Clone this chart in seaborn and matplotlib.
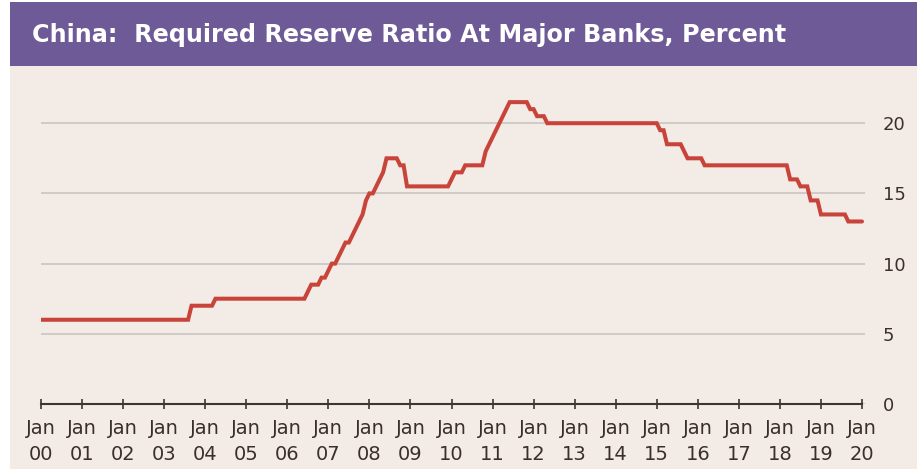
import numpy as np
import pandas as pd
import matplotlib
matplotlib.use('Agg')
import matplotlib.pyplot as plt
import seaborn as sns
from matplotlib.patches import Rectangle

# Month in which each change of the required reserve ratio shows up, and new level (%)
change_months = [
    '2000-01', '2003-09', '2004-04', '2006-07', '2006-08', '2006-11',
    '2007-01', '2007-02', '2007-04', '2007-05', '2007-06', '2007-08',
    '2007-09', '2007-10', '2007-11', '2007-12', '2008-01', '2008-03',
    '2008-04', '2008-05', '2008-06', '2008-10', '2008-12', '2010-01',
    '2010-02', '2010-05', '2010-11', '2010-12', '2011-01', '2011-02',
    '2011-03', '2011-04', '2011-05', '2011-06', '2011-12', '2012-02',
    '2012-05', '2015-02', '2015-04', '2015-09', '2015-10', '2016-03',
    '2018-04', '2018-07', '2018-10', '2019-01', '2019-09',
]
rrr_levels = [
    6.0, 7.0, 7.5, 8.0, 8.5, 9.0,
    9.5, 10.0, 10.5, 11.0, 11.5, 12.0,
    12.5, 13.0, 13.5, 14.5, 15.0, 15.5,
    16.0, 16.5, 17.5, 17.0, 15.5, 16.0,
    16.5, 17.0, 18.0, 18.5, 19.0, 19.5,
    20.0, 20.5, 21.0, 21.5, 21.0, 20.5,
    20.0, 19.5, 18.5, 18.0, 17.5, 17.0,
    16.0, 15.5, 14.5, 13.5, 13.0,
]
x_tick_years = list(range(2000, 2021))
x_tick_labels = [f"Jan\n{y % 100:02d}" for y in x_tick_years]
y_ticks = [0, 5, 10, 15, 20]
title = 'China:  Required Reserve Ratio At Major Banks, Percent'

# monthly step series (level in force each month)
months = pd.period_range('2000-01', '2020-01', freq='M')
series = (pd.Series(rrr_levels, index=pd.PeriodIndex(change_months, freq='M'))
          .reindex(months).ffill())
df = pd.DataFrame({'year': months.year + (months.month - 1) / 12.0,
                   'rrr': series.values})

sns.set_theme(style='white')
plt.rcParams['font.family'] = ['DejaVu Sans']

W, H = 917, 469
BG = '#f3ebe5'
PURPLE = '#6e5a96'
TXT = '#3a302b'
fig = plt.figure(figsize=(W / 100, H / 100), dpi=100, facecolor=BG)
fig.patches.append(Rectangle((0, 0), 10 / W, 1, transform=fig.transFigure,
                             facecolor='white', edgecolor='none', zorder=-1))
fig.patches.append(Rectangle((0, 1 - 2 / H), 1, 2 / H, transform=fig.transFigure,
                             facecolor='white', edgecolor='none', zorder=-1))
fig.patches.append(Rectangle((10 / W, 1 - 66 / H), 1, 64 / H, transform=fig.transFigure,
                             facecolor=PURPLE, edgecolor='none'))
fig.text(32 / W, 1 - 35 / H, title, color='white', fontsize=17.2, fontweight='bold',
         va='center', ha='left')

x0, x1 = 41, 862
ppx = (x1 - x0) / 20.0
y0 = 404
ppu = 14.04
ytop = 22.5
extra = 3 / ppx
ax = fig.add_axes([x0 / W, (H - y0) / H, (x1 - x0 + 3) / W, ytop * ppu / H])
ax.set_facecolor(BG)

sns.lineplot(data=df, x='year', y='rrr', ax=ax, color='#c8443a', linewidth=2.9,
             solid_joinstyle='miter', zorder=3)

ax.set_xlim(2000, 2020 + extra)
ax.set_ylim(0, ytop)
for s in ['top', 'left', 'right']:
    ax.spines[s].set_visible(False)
ax.spines['bottom'].set_bounds(2000, 2020)
ax.spines['bottom'].set_color('#3d3530')
ax.spines['bottom'].set_linewidth(1.5)
ax.spines['bottom'].set_zorder(4)

ax.set_xticks(x_tick_years)
ax.set_xticklabels(x_tick_labels, linespacing=1.45)
ax.tick_params(axis='x', bottom=True, direction='inout', length=7.5, width=1.2,
               color='#3d3530', labelsize=14, labelcolor=TXT, pad=7)
ax.yaxis.tick_right()
ax.set_yticks(y_ticks)
ax.set_yticklabels([str(v) for v in y_ticks])
ax.tick_params(axis='y', right=False, left=False, length=0, labelsize=13,
               labelcolor=TXT, pad=13)
ax.grid(axis='y', color='#c9c5c1', linewidth=1.2)
ax.grid(axis='x', visible=False)
ax.set_xlabel('')
ax.set_ylabel('')

fig.savefig('out.png', dpi=100, facecolor=BG)
